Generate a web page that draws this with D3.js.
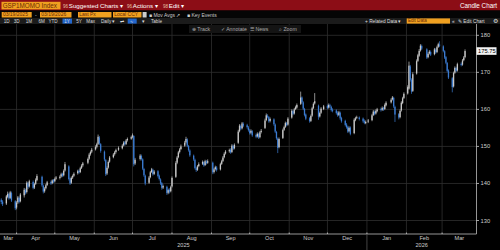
<!DOCTYPE html>
<html><head><meta charset="utf-8">
<script src="https://cdn.jsdelivr.net/npm/d3@7"></script>
<style>
html,body{margin:0;padding:0;background:#000;overflow:hidden}
svg{display:block}
text{font-family:"Liberation Sans",Arial,sans-serif}
</style></head><body>
<svg id="c" width="500" height="250"></svg>
<script>
// ---------- DATA ----------
const startDate = "2025-03-20", endDate = "2026-03-19";
const holidays = ["2025-04-18","2025-05-26","2025-06-19","2025-07-04","2025-09-01","2025-11-27","2025-12-25","2026-01-01","2026-01-19","2026-02-16"];
const opens = [
135.6,135.1,
134.6,136.4,137.1,136.1,137.4,
135.2,133.5,134.9,136.1,135.2,
136.8,138.1,137.7,140.0,139.2,
140.4,138.9,139.9,140.9,
141.8,139.4,137.9,138.7,139.6,
140.4,140.1,140.9,140.6,141.3,
141.5,141.9,142.6,142.2,143.5,
144.6,141.3,140.2,141.6,142.1,
142.8,143.4,143.1,144.2,144.9,
145.6,146.7,147.9,148.6,
149.2,149.9,150.7,152.4,150.6,
148.6,146.3,142.7,144.3,145.9,
147.1,147.9,148.5,149.1,
149.5,150.3,151.1,150.7,151.7,
152.1,152.6,152.8,145.4,
146.6,147.4,146.5,143.9,142.1,
140.2,141.7,143.1,143.7,142.6,
143.3,142.1,141.1,140.1,138.9,
139.1,137.5,138.3,137.9,139.2,
141.8,145.6,147.1,148.5,149.3,
150.2,151.1,151.9,150.1,148.9,
147.5,146.4,144.1,143.7,144.7,
145.3,145.7,145.0,145.9,145.6,
145.6,143.1,143.9,144.3,
143.8,145.3,146.1,147.1,148.1,
148.7,149.1,148.5,150.1,149.5,
151.0,154.1,155.5,154.9,156.1,
155.7,155.1,154.3,153.7,154.1,
153.1,152.7,153.3,152.5,153.9,
155.0,157.1,158.3,157.9,156.9,
157.3,155.9,153.9,152.1,149.8,
152.3,154.5,155.3,156.2,155.9,
157.8,159.5,158.9,160.1,160.5,
161.5,163.2,161.9,160.1,158.6,
157.6,156.9,158.3,160.4,161.6,
161.0,158.1,159.1,160.1,
160.9,160.5,161.1,160.7,159.9,
159.7,159.1,158.5,159.1,157.7,
156.9,155.9,155.3,154.1,155.1,
153.6,157.1,157.7,157.8,
157.5,156.9,156.3,156.7,
157.1,158.5,159.3,158.9,159.5,
160.1,159.9,160.3,160.1,161.1,
161.9,162.7,163.1,160.7,
158.7,157.9,159.7,161.7,163.1,
164.3,165.6,171.6,168.0,165.0,
169.7,173.1,174.5,175.9,177.1,
176.2,174.1,175.1,175.5,
174.9,176.1,175.5,176.9,177.5,
177.0,175.7,174.1,172.5,170.5,
168.4,166.2,169.9,171.1,170.5,
172.3,172.1,173.3,174.1];
const highs = [
136.0,135.5,
136.9,137.8,137.5,138.0,137.8,
135.5,135.2,136.6,136.5,137.4,
138.8,138.6,140.6,140.4,141.0,
140.8,140.2,141.4,142.5,
142.1,139.7,139.0,139.9,140.7,
140.8,141.1,141.2,141.6,142.0,
142.2,142.9,142.9,143.8,145.8,
144.9,141.6,141.9,142.4,143.0,
143.7,143.8,144.5,145.2,145.8,
147.0,148.2,148.9,149.6,
150.3,151.0,153.2,152.8,150.9,
148.9,146.6,144.6,146.2,147.4,
148.2,148.8,149.4,150.0,
150.6,151.4,151.5,152.0,152.4,
152.9,153.5,153.0,146.9,
147.9,147.8,146.8,144.2,142.4,
142.0,143.4,144.2,144.0,143.6,
143.6,142.4,141.4,140.4,139.7,
139.4,138.6,138.7,139.4,141.9,
146.0,147.4,148.8,149.6,150.5,
151.5,152.6,152.2,150.4,149.2,
147.8,146.7,144.5,145.0,145.7,
146.2,146.0,146.4,146.3,146.5,
145.9,144.2,144.8,144.7,
145.6,146.4,147.4,148.4,149.0,
149.4,149.5,150.6,150.5,150.8,
154.5,156.0,155.9,156.6,156.5,
156.1,155.5,154.7,154.6,154.4,
153.5,153.8,153.7,154.2,154.7,
157.5,158.9,158.7,158.2,157.8,
157.6,156.2,154.2,152.4,152.4,
154.8,155.6,156.7,156.6,157.9,
160.0,159.9,160.4,161.0,161.6,
164.8,163.5,162.2,160.4,158.9,
157.9,158.6,160.7,161.9,164.4,
161.3,159.4,160.6,161.2,
161.3,161.6,161.5,161.0,160.3,
160.0,159.5,159.6,159.4,158.0,
157.2,156.3,155.6,155.4,155.4,
157.6,158.0,158.3,158.1,
157.8,157.3,157.0,157.4,
158.8,159.8,159.7,160.0,160.4,
160.5,160.8,160.7,161.6,162.2,
163.0,163.6,163.4,161.0,
159.0,160.0,162.2,163.4,164.6,
166.5,172.9,172.0,168.4,170.0,
173.5,175.0,176.3,177.6,177.5,
176.5,175.4,176.0,175.9,
176.6,176.5,177.2,178.0,178.4,
177.3,176.0,174.4,172.8,170.8,
168.7,170.2,171.6,171.5,172.6,
172.7,173.6,174.4,176.2];
const lows = [
134.4,133.9,
134.2,136.0,135.6,135.8,135.0,
132.8,133.0,134.5,134.6,134.9,
136.2,137.0,137.3,138.5,138.9,
138.4,138.5,139.6,140.6,
139.1,137.3,137.5,138.4,139.3,
139.6,139.8,140.1,140.3,141.0,
141.1,141.6,141.7,141.9,143.2,
140.8,139.6,139.9,141.2,141.8,
142.4,142.6,142.8,143.9,144.5,
145.2,146.4,147.5,148.2,
148.9,149.5,150.4,150.4,148.3,
146.0,142.0,142.3,144.0,145.6,
146.8,147.5,148.1,148.8,
149.2,150.0,150.2,150.4,151.3,
151.8,152.2,144.6,145.0,
146.2,146.2,143.6,141.8,139.5,
139.9,141.4,142.8,142.1,142.3,
141.6,140.8,139.6,138.3,138.5,
136.9,137.1,137.3,137.6,138.9,
141.5,145.2,146.8,148.1,149.0,
149.9,150.8,149.8,148.6,147.2,
146.1,143.8,143.1,143.4,144.4,
145.0,144.5,144.7,145.1,145.3,
142.5,142.7,143.5,143.2,
143.5,145.0,145.8,146.8,147.8,
148.3,148.0,148.2,149.0,149.2,
150.7,153.8,154.4,154.6,155.2,
154.8,154.0,153.2,153.3,152.6,
152.2,152.4,152.0,152.2,153.5,
154.7,156.8,157.6,156.4,156.5,
155.6,153.6,151.8,148.2,149.5,
152.0,154.2,155.0,155.4,155.6,
157.5,158.4,158.6,159.8,160.2,
161.2,161.6,159.8,158.1,157.1,
156.4,156.6,158.0,160.1,161.3,
157.2,157.8,158.8,159.8,
160.0,160.2,160.4,159.4,159.2,
158.6,158.0,158.2,157.2,156.4,
155.4,154.8,153.6,153.8,153.0,
153.3,156.8,157.4,157.0,
156.4,156.0,156.0,156.3,
156.8,158.2,158.4,158.6,159.2,
159.4,159.6,159.6,159.8,160.8,
161.6,162.4,160.4,156.6,
157.3,157.6,159.4,161.4,162.8,
164.0,165.3,167.5,164.2,164.7,
169.4,172.8,174.2,175.6,176.0,
173.6,173.8,174.8,174.4,
174.6,175.0,175.2,176.6,176.8,
175.4,173.6,172.2,170.0,168.2,
164.6,165.9,169.6,170.0,170.2,
171.6,171.8,173.0,173.8];
const closes = [
135.0,134.4,
136.5,137.2,136.0,137.6,135.4,
133.3,134.8,136.2,135.0,137.0,
138.3,137.5,140.2,139.0,140.6,
138.8,139.8,141.0,142.0,
139.5,137.8,138.6,139.5,140.3,
140.0,140.8,140.5,141.2,141.6,
141.8,142.5,142.1,143.4,145.2,
141.2,140.0,141.5,142.0,142.6,
143.3,143.0,144.1,144.8,145.4,
146.6,147.8,148.5,149.1,
149.8,150.6,152.6,150.8,148.8,
146.5,142.5,144.2,145.8,147.0,
147.8,148.4,149.0,149.6,
150.2,151.0,150.6,151.6,152.0,
152.5,153.0,145.2,146.4,
147.5,146.6,144.0,142.2,140.0,
141.6,143.0,143.8,142.5,143.2,
142.0,141.2,140.0,138.8,139.3,
137.4,138.2,137.8,139.0,141.5,
145.5,147.0,148.4,149.2,150.0,
151.0,152.0,150.2,149.0,147.6,
146.5,144.2,143.6,144.6,145.2,
145.8,144.9,146.0,145.5,146.0,
143.0,143.8,144.4,143.6,
145.2,146.0,147.0,148.0,148.6,
149.0,148.4,150.2,149.4,150.4,
154.0,155.6,154.8,156.2,155.6,
155.2,154.4,153.6,154.2,153.0,
152.6,153.4,152.4,153.8,154.2,
157.0,158.4,158.0,156.8,157.4,
156.0,154.0,152.2,149.6,152.0,
154.4,155.2,156.3,155.8,157.5,
159.6,158.8,160.0,160.6,161.2,
163.2,162.0,160.2,158.5,157.5,
156.8,158.2,160.3,161.5,162.2,
158.0,159.0,160.2,160.8,
160.4,161.2,160.8,159.8,159.6,
159.0,158.4,159.2,157.6,156.8,
155.8,155.2,154.0,155.0,153.4,
157.2,157.6,157.9,157.4,
156.8,156.4,156.6,157.0,
158.4,159.4,158.8,159.6,160.0,
159.8,160.4,160.0,161.2,161.8,
162.6,163.2,160.8,158.6,
157.8,159.6,161.8,163.0,164.2,
166.0,171.8,168.0,164.8,169.5,
173.0,174.6,175.8,177.2,176.4,
174.0,175.0,175.6,174.8,
176.2,175.4,176.8,177.6,177.2,
175.8,174.0,172.6,170.4,168.6,
166.0,169.8,171.2,170.4,172.2,
172.0,173.2,174.0,175.75];
const yTicks = [130,140,150,160,170,180];
const lastPrice = 175.75;
const periodButtons = ["1D","3D","1M","6M","YTD","1Y","5Y","Max"];

// ---------- BUILD ----------
const parse = d3.timeParse("%Y-%m-%d");
const hol = new Set(holidays);
const fmt = d3.timeFormat("%Y-%m-%d");
const dates = d3.timeDay.range(parse(startDate), d3.timeDay.offset(parse(endDate),1))
  .filter(d => d.getDay()!==0 && d.getDay()!==6 && !hol.has(fmt(d)));
const n = Math.min(dates.length, closes.length, opens.length, highs.length, lows.length);
const data = d3.range(n).map(i => ({d:dates[i], o:opens[i], h:highs[i], l:lows[i], c:closes[i]}));

const svg = d3.select("#c");
const plotL = 0, plotR = 476.5, plotT = 24, plotB = 234;
const x = d3.scaleTime().domain([new Date(2025,2,19), new Date(2026,2,28)]).range([plotL, plotR]);
const y = d3.scaleLinear().domain([130,180]).range([220.5, 35.3]);

svg.append("rect").attr("width",500).attr("height",250).attr("fill","#000");

// header bar
svg.append("rect").attr("x",0).attr("y",0).attr("width",500).attr("height",10.5).attr("fill","#8c0d16");
svg.append("rect").attr("x",0).attr("y",10.5).attr("width",500).attr("height",7.5).attr("fill","#050505");
svg.append("rect").attr("x",0).attr("y",18).attr("width",500).attr("height",6).attr("fill","#1b1b1b");

function obox(x0, w, y0, h, txt, fs){
  svg.append("rect").attr("x",x0).attr("y",y0).attr("width",w).attr("height",h).attr("fill","#f0a020");
  svg.append("text").attr("x",x0+1.2).attr("y",y0+h-1.4).attr("font-size",fs).attr("fill","#6b2a05").text(txt);
}
obox(1.5, 59, 1.8, 7.6, "GSP1MOMO Index", 6.3);
const hdr = [["96","Suggested Charts \u25BE",63],["96","Actions \u25BE",127],["98","Edit \u25BE",163]];
hdr.forEach(([a,b,x0])=>{
  svg.append("text").attr("x",x0).attr("y",8).attr("font-size",4.5).attr("fill","#e8c0a0").text(a);
  svg.append("text").attr("x",x0+5.8).attr("y",8).attr("font-size",6.2).attr("fill","#fff").text(b);
});
svg.append("text").attr("x",497).attr("y",8).attr("text-anchor","end").attr("font-size",6.3).attr("fill","#fff").text("Candle Chart");

obox(1.7, 30, 12, 5.5, "03/19/2025", 5);
svg.append("text").attr("x",35).attr("y",16.8).attr("font-size",5).attr("fill","#ddd").text("-");
obox(40, 31.5, 12, 5.5, "03/19/2026", 5);
obox(78, 33.5, 12, 5.5, "Last Px", 5);
obox(113, 28.5, 12, 5.5, "Local CCY", 5);
svg.append("rect").attr("x",142.6).attr("y",12).attr("width",4).attr("height",5.5).attr("fill","#ccc");
svg.append("text").attr("x",149).attr("y",16.8).attr("font-size",5).attr("fill","#ccc").text("\u25A0 Mov Avgs \u2197");
svg.append("text").attr("x",187).attr("y",16.8).attr("font-size",5).attr("fill","#ccc").text("\u25A0 Key Events");

// period buttons row
const pbx = [6.7,16.7,29,41.7,53,67,79,90.7];
svg.append("rect").attr("x",62.5).attr("y",18.6).attr("width",9.5).attr("height",5).attr("fill","#2266cc");
periodButtons.forEach((t,i)=>{
  svg.append("text").attr("x",pbx[i]).attr("y",22.6).attr("text-anchor","middle").attr("font-size",4.6).attr("fill","#ddd").text(t);
});
svg.append("text").attr("x",101).attr("y",22.6).attr("font-size",4.6).attr("fill","#ddd").text("Daily \u25BE");
svg.append("text").attr("x",119.5).attr("y",22.6).attr("font-size",4.6).attr("fill","#ddd").text("\u21CC");
svg.append("rect").attr("x",127.7).attr("y",18.6).attr("width",9).attr("height",5).attr("fill","#2266cc");
svg.append("text").attr("x",130).attr("y",22.6).attr("font-size",4.2).attr("fill","#ddd").text("\u223F");
svg.append("text").attr("x",142).attr("y",22.6).attr("font-size",4.6).attr("fill","#ddd").text("\u25BE");
svg.append("text").attr("x",151).attr("y",22.6).attr("font-size",4.6).attr("fill","#ddd").text("Table");

svg.append("text").attr("x",365).attr("y",22.6).attr("font-size",4.8).attr("fill","#ddd").text("+ Related Data \u25BE");
obox(406.7, 43.3, 18.4, 5.2, "Edit Data", 4.6);
svg.append("text").attr("x",452).attr("y",22.6).attr("font-size",4.8).attr("fill","#ddd").text("\u00AB");
svg.append("text").attr("x",458).attr("y",22.6).attr("font-size",4.8).attr("fill","#ddd").text("\u270E Edit Chart");
svg.append("text").attr("x",493).attr("y",22.8).attr("font-size",5.5).attr("fill","#ddd").text("\u2699");

// gridlines
const months = d3.timeMonth.range(new Date(2025,3,1), new Date(2026,2,2));
svg.append("g").selectAll("line").data(months).join("line")
  .attr("x1",d=>x(d)).attr("x2",d=>x(d)).attr("y1",plotT).attr("y2",plotB)
  .attr("stroke","#2e2e2e").attr("stroke-width",0.8);
svg.append("g").selectAll("line").data(yTicks).join("line")
  .attr("x1",plotL).attr("x2",plotR).attr("y1",d=>y(d)).attr("y2",d=>y(d))
  .attr("stroke","#2e2e2e").attr("stroke-width",0.8);

// toolbar inside chart
svg.append("rect").attr("x",189).attr("y",25).attr("width",112).attr("height",8).attr("fill","#141414");
[["\u2295 Track",192],["\u2713 Annotate",221],["\u2630 News",250],["\u2315 Zoom",279]].forEach(([t,x0])=>{
  svg.append("text").attr("x",x0).attr("y",31.3).attr("font-size",5.2).attr("fill","#aaa").text(t);
});

// candles
const g = svg.append("g");
const upC = "#c8c8c8", dnC = "#3b7bd0";
g.selectAll("line.w").data(data).join("line").attr("class","w")
  .attr("x1",d=>x(d.d)).attr("x2",d=>x(d.d)).attr("y1",d=>y(d.h)).attr("y2",d=>y(d.l))
  .attr("stroke",d=>d.c>=d.o?upC:dnC).attr("stroke-width",0.7);
g.selectAll("rect.b").data(data).join("rect").attr("class","b")
  .attr("x",d=>x(d.d)-0.65).attr("width",1.3)
  .attr("y",d=>y(Math.max(d.o,d.c))).attr("height",d=>Math.max(0.7, Math.abs(y(d.o)-y(d.c))))
  .attr("fill",d=>d.c>=d.o?upC:dnC);

// right axis
svg.append("line").attr("x1",plotR).attr("x2",plotR).attr("y1",plotT).attr("y2",plotB).attr("stroke","#bbb").attr("stroke-width",0.8);
const ya = svg.append("g");
ya.selectAll("line").data(yTicks).join("line")
  .attr("x1",plotR).attr("x2",plotR+2.5).attr("y1",d=>y(d)).attr("y2",d=>y(d)).attr("stroke","#ccc").attr("stroke-width",0.8);
ya.selectAll("text").data(yTicks).join("text")
  .attr("x",plotR+4).attr("y",d=>y(d)+2).attr("font-size",5.8).attr("fill","#ccc").text(d=>d);
svg.append("rect").attr("x",plotR).attr("y",y(lastPrice)-3.8).attr("width",20).attr("height",7.6).attr("fill","#f2f2f2");
svg.append("text").attr("x",plotR+1.5).attr("y",y(lastPrice)+2).attr("font-size",5.8).attr("fill","#000").text(lastPrice.toFixed(2));

// bottom axis
svg.append("line").attr("x1",plotL).attr("x2",plotR).attr("y1",plotB).attr("y2",plotB).attr("stroke","#bbb").attr("stroke-width",0.8);
svg.append("g").selectAll("line").data(months).join("line")
  .attr("x1",d=>x(d)).attr("x2",d=>x(d)).attr("y1",plotB-1.5).attr("y2",plotB).attr("stroke","#ccc").attr("stroke-width",0.8);
const dom = x.domain();
const mStarts = [dom[0], ...months, dom[1]];
const monthFmt = d3.timeFormat("%b");
const mLab = d3.range(mStarts.length-1).map(i=>({t:monthFmt(i===0?dom[0]:mStarts[i]), xm:(x(mStarts[i])+x(mStarts[i+1]))/2}));
svg.append("g").selectAll("text").data(mLab).join("text")
  .attr("x",d=>d.xm).attr("y",240.3).attr("text-anchor","middle").attr("font-size",5.6).attr("fill","#ccc").text(d=>d.t);
const yb = [new Date(2026,0,1)];
svg.append("line").attr("x1",x(yb[0])).attr("x2",x(yb[0])).attr("y1",plotB).attr("y2",250).attr("stroke","#555").attr("stroke-width",0.8);
const yearLab = [{t:"2025", xm:(x(dom[0])+x(yb[0]))/2},{t:"2026", xm:(x(yb[0])+x(dom[1]))/2}];
svg.append("g").selectAll("text").data(yearLab).join("text")
  .attr("x",d=>d.xm).attr("y",246.5).attr("text-anchor","middle").attr("font-size",5.6).attr("fill","#ccc").text(d=>d.t);
</script>
</body></html>
